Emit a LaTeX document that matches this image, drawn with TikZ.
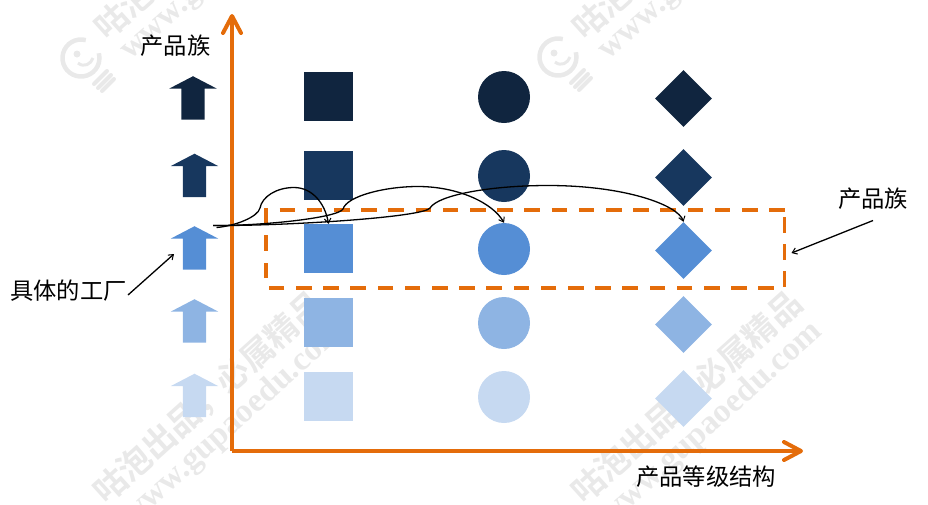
\documentclass[tikz,border=0pt]{standalone}
\usepackage{fontspec}
\setmainfont{Liberation Serif}
\newfontfamily\cjk{Noto Sans CJK SC}
\newfontfamily\wmcjk{Noto Sans CJK SC Bold}
\usetikzlibrary{arrows.meta,shapes.geometric,shapes.arrows}
\definecolor{rowA}{HTML}{10253F}
\definecolor{rowB}{HTML}{17375E}
\definecolor{rowC}{HTML}{558ED5}
\definecolor{rowD}{HTML}{8EB4E3}
\definecolor{rowE}{HTML}{C6D9F1}
\definecolor{axisorange}{HTML}{E46C0A}
\definecolor{wmgray}{HTML}{E9E9E9}
\tikzset{
 sq/.style={rectangle,minimum size=49pt,inner sep=0pt,fill=#1},
 ci/.style={circle,minimum size=52pt,inner sep=0pt,fill=#1},
 di/.style={diamond,minimum size=57pt,inner sep=0pt,aspect=1,fill=#1},
 upa/.style={single arrow,shape border rotate=90,minimum height=43.5pt,inner sep=0pt,anchor=tip,
   text width=23pt,text height=23pt,text depth=0pt,
   single arrow head extend=12pt,single arrow tip angle=125,single arrow head indent=0pt,fill=#1},
 axisline/.style={draw=axisorange,line width=4pt,-{Straight Barb[length=17pt,width=18pt,line width=4pt,round]}},
 thin/.style={draw=black,line width=1.3pt,-{Straight Barb[length=4.5pt,width=6.5pt,line width=1pt]}},
 dashline/.style={draw=axisorange,line width=3.6pt,dash pattern=on 15.5pt off 11.7pt},
 label/.style={font=\cjk\fontsize{23.3}{25}\selectfont,inner sep=0pt,text=black},
 wmA/.style={font=\wmcjk\fontsize{33}{35}\selectfont,text=wmgray,rotate=42,inner sep=0pt,anchor=west},
 wmB/.style={font=\rmfamily\bfseries\fontsize{33.5}{36}\selectfont,text=wmgray,rotate=42,inner sep=0pt,anchor=west},
}
\newcommand{\wmlogo}[2]{%
 \draw[wmgray,line width=4.5pt] ([shift={(75:18.5pt)}]#1,#2) arc[start angle=75,end angle=375,radius=18.5pt];
 \fill[wmgray] (#1-4,#2-4) circle (3.5pt);
 \draw[wmgray,line width=3pt] (#1-3,#2+5) .. controls (#1+3,#2+10) and (#1+10,#2+6) .. (#1+12,#2);
 \draw[wmgray,line width=4pt,line cap=round] (#1+13,#2+26) -- (#1+26,#2+13);
 \draw[wmgray,line width=4pt,line cap=round] (#1+17,#2+30) -- (#1+30,#2+17);
 \draw[wmgray,line width=4pt,line cap=round] (#1+21,#2+33) -- (#1+33,#2+21);
}
\begin{document}
\begin{tikzpicture}[x=1pt,y=-1pt]
\useasboundingbox (0,0) rectangle (928,504);
\begin{scope}
\clip (0,0) rectangle (928,504);
\wmlogo{81}{58}
\wmlogo{558}{57}
\node[wmA] (wa) at (99,33) {咕泡出品，必属精品};
\node[wmB] (wb) at (125,55) {www.gupaoedu.com};
\node[wmA] (wc) at (577,33) {咕泡出品，必属精品};
\node[wmB] (wd) at (603,55) {www.gupaoedu.com};
\node[wmA] (we) at (98,497) {咕泡出品，必属精品};
\node[wmB] (wf) at (127,520) {www.gupaoedu.com};
\node[wmA] (wg) at (576,497) {咕泡出品，必属精品};
\node[wmB] (wh) at (605,520) {www.gupaoedu.com};
\end{scope}
% arrows
\node[upa=rowA] (ua) at (193,76) {};
\node[upa=rowB] (ub) at (194.5,153.5) {};
\node[upa=rowC] (uc) at (194.5,226) {};
\node[upa=rowD] (ud) at (194.5,299) {};
\node[upa=rowE] (ue) at (194.5,373.5) {};
% squares
\node[sq=rowA] (sa) at (328.5,96.5) {};
\node[sq=rowB] (sb) at (328.5,175.5) {};
\node[sq=rowC] (sc) at (328.5,248.5) {};
\node[sq=rowD] (sd) at (328.5,322.5) {};
\node[sq=rowE] (se) at (328.5,396.5) {};
% circles
\node[ci=rowA] (ca) at (504,97) {};
\node[ci=rowB] (cb) at (504,176) {};
\node[ci=rowC] (cc) at (504,249) {};
\node[ci=rowD] (cd) at (504,323) {};
\node[ci=rowE] (ce) at (504,397) {};
% diamonds
\node[di=rowA] (da) at (683.5,98.5) {};
\node[di=rowB] (db) at (683.5,177.5) {};
\node[di=rowC] (dc) at (683.5,250.5) {};
\node[di=rowD] (dd) at (683.5,324.5) {};
\node[di=rowE] (de) at (683.5,398.5) {};
% axes
\coordinate (origin) at (232,451);
\coordinate (ytop) at (232,14);
\coordinate (xend) at (803,451);
\draw[axisline] (origin) -- (ytop);
\draw[axisline] (origin) -- (xend);
% dashed rectangle
\draw[dashline] (266,278) -- (266,210) -- (784.5,210);
\draw[dashline] (784.5,217) -- (784.5,288) -- (268,288);
\coordinate (boxr) at (791.5,253);
% labels
\node[label] (lfam) at (175.5,46) {产品族};
\node[label] (lfac) at (68.5,291) {具体的工厂};
\node[label] (lfam2) at (873,198.5) {产品族};
\node[label] (lgrade) at (706,476.5) {产品等级结构};
% pointers
\coordinate (pa) at (873,220.5);
\coordinate (pb) at (128,295);
\coordinate (pc) at (174,254);
\draw[thin] (pa) -- (boxr);
\draw[thin] (pb) -- (pc);
% curves
\coordinate (cs1) at (216.5,227.5);
\coordinate (cs2) at (213,225.5);
\draw[thin] (cs1) .. controls (235,226) and (258,217) .. (260,208)
  .. controls (262,197) and (276,187.5) .. (294,187.5)
  .. controls (312,187.5) and (325,203) .. (sc.north);
\draw[thin] (cs2) .. controls (260,226) and (338,218) .. (343,209)
  .. controls (347,196) and (385,186.5) .. (418,186.5)
  .. controls (458,186.5) and (493,203) .. (cc.north);
\draw[thin] (cs2) .. controls (290,226) and (424,217) .. (430,208)
  .. controls (438,195) and (490,185.5) .. (548,185.5)
  .. controls (625,185.5) and (678,205) .. (dc.north);
\end{tikzpicture}
\end{document}
